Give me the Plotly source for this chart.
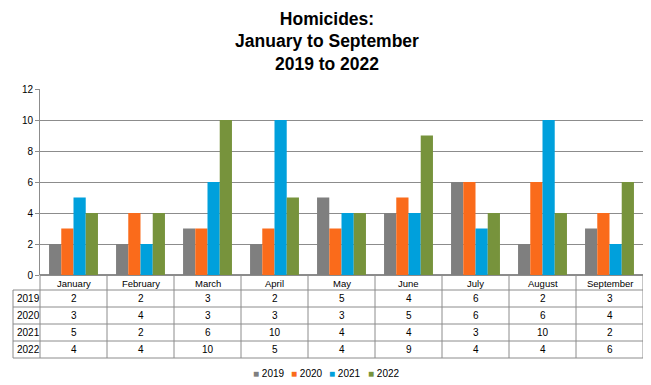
import plotly.graph_objects as go

months = ["January", "February", "March", "April", "May", "June", "July", "August", "September"]
years = ["2019", "2020", "2021", "2022"]
v2019 = [2, 2, 3, 2, 5, 4, 6, 2, 3]
v2020 = [3, 4, 3, 3, 3, 5, 6, 6, 4]
v2021 = [5, 2, 6, 10, 4, 4, 3, 10, 2]
v2022 = [4, 4, 10, 5, 4, 9, 4, 4, 6]
series = [v2019, v2020, v2021, v2022]
colors = ["#7f7f7f", "#fa6b1b", "#00a0dc", "#77933c"]
yticks = [0, 2, 4, 6, 8, 10, 12]

# page body has an 8px margin: figure starts at (8, 8) on the page
OFF = 8
FW, FH = 651 - OFF, 385 - OFF
PL, PR, PT, PB = 40, 643, 89, 275   # plot area in page pixels
L, R, T, B = PL - OFF, (OFF + FW) - PR, PT - OFF, (OFF + FH) - PB
pw = PR - PL
ph = PB - PT
FONT = "Liberation Sans"

def py(p):  # page pixel y -> paper y
    return (PB - p) / ph

def px(p):  # page pixel x -> paper x
    return (p - PL) / pw

fig = go.Figure()
for name, vals, c in zip(years, series, colors):
    fig.add_trace(go.Bar(x=months, y=vals, name=name, marker=dict(color=c, line=dict(width=0))))

shapes = []
line_col = "#8c8c8c"
row_lines = [290, 307, 324, 341, 358]
for p in row_lines:
    shapes.append(dict(type="line", xref="paper", yref="paper", x0=px(13), x1=1, y0=py(p), y1=py(p),
                       line=dict(color=line_col, width=1)))
shapes.append(dict(type="line", xref="paper", yref="paper", x0=px(13), x1=px(13), y0=py(290), y1=py(358),
                   line=dict(color=line_col, width=1)))
for i in range(len(months) + 1):
    xp = i / len(months)
    shapes.append(dict(type="line", xref="paper", yref="paper", x0=xp, x1=xp, y0=0, y1=py(358),
                       line=dict(color=line_col, width=1)))

annotations = []
for m in months:
    annotations.append(dict(x=m, xref="x", xanchor="center", y=py(283), yref="paper", yanchor="middle",
                            text=m, showarrow=False, font=dict(size=9.5, color="black", family=FONT)))
row_centers = [298.5, 315.5, 332.5, 349.5]
for yr, vals, rc in zip(years, series, row_centers):
    annotations.append(dict(x=px(15), xref="paper", xanchor="left", y=py(rc), yref="paper", yanchor="middle",
                            text=yr, showarrow=False, font=dict(size=10, color="black", family=FONT)))
    for m, v in zip(months, vals):
        annotations.append(dict(x=m, xref="x", xanchor="center", y=py(rc), yref="paper", yanchor="middle",
                                text=str(v), showarrow=False, font=dict(size=10, color="black", family=FONT)))

leg_x = [251, 289, 327, 366]
for yr, c, lx in zip(years, colors, leg_x):
    annotations.append(dict(x=px(lx), xref="paper", xanchor="left", y=py(373), yref="paper", yanchor="middle",
                            text=f"<span style='color:{c}'>■</span> {yr}", showarrow=False,
                            font=dict(size=10, color="black", family=FONT)))

fig.update_layout(
    width=FW, height=FH,
    margin=dict(l=L, r=R, t=T, b=B, autoexpand=False),
    paper_bgcolor="white", plot_bgcolor="white",
    barmode="group", bargap=0.27, bargroupgap=0,
    title=dict(text="<b>Homicides:<br>January to September<br>2019 to 2022</b>",
               x=(327 - OFF) / FW, xanchor="center", y=0.956, yanchor="top",
               font=dict(size=17.5, color="black", family=FONT)),
    xaxis=dict(showticklabels=False, showline=False, ticks="", showgrid=False),
    yaxis=dict(range=[0, 12], tickvals=yticks, showgrid=True, gridcolor="#8c8c8c", gridwidth=1,
               showline=True, linecolor="#8c8c8c", ticks="outside", ticklen=4, tickcolor="#8c8c8c",
               tickfont=dict(size=10, color="black", family=FONT), zeroline=True, zerolinecolor="#8c8c8c"),
    shapes=shapes, annotations=annotations, showlegend=False,
)

fig.write_html("out.html")
